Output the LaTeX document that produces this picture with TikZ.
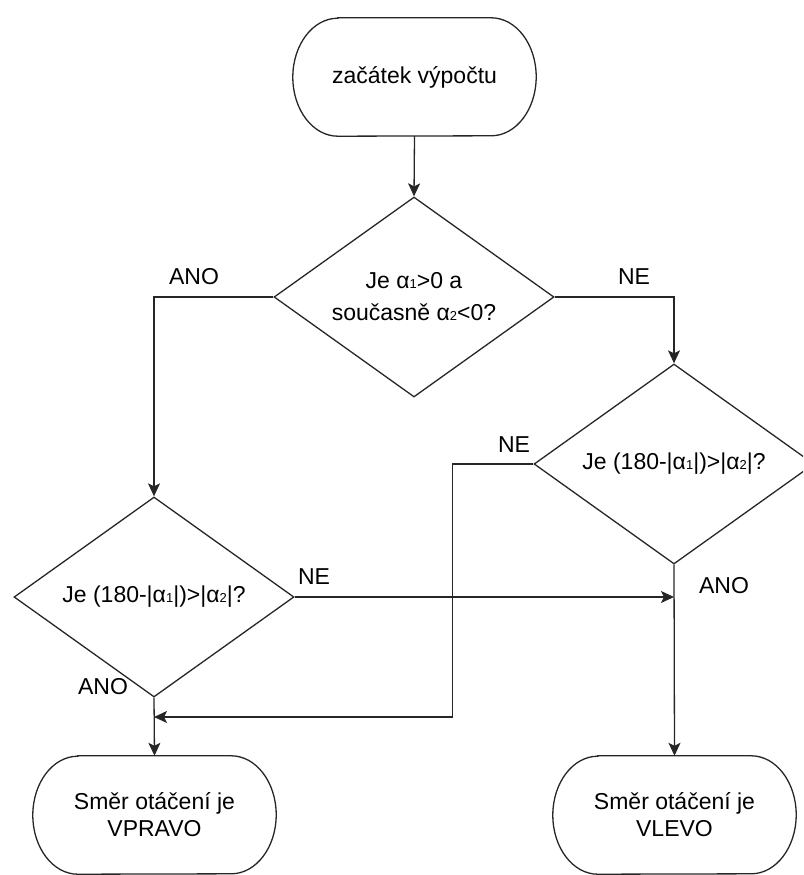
\documentclass[tikz,border=0pt]{standalone}
\usepackage{fontspec}
\setmainfont{Liberation Sans}
\usetikzlibrary{shapes.geometric,arrows.meta}
\newcommand\alsub[1]{α{\fontsize{13}{13}\selectfont #1}}
\tikzset{
  base/.style={line width=1.3pt, draw=black!85},
  arr/.style={base, -{Stealth[length=13pt,width=12pt,inset=3pt]}},
  term/.style={rectangle, draw=none, minimum width=243pt, minimum height=118pt, inner sep=0pt,
    align=center, font=\fontsize{23}{27}\selectfont},
  dia/.style={diamond, base, aspect=1.4, minimum width=280pt, minimum height=200pt, inner sep=0pt,
    align=center, font=\fontsize{23}{32}\selectfont},
  lbl/.style={font=\fontsize{23}{23}\selectfont, inner sep=0pt}
}
\begin{document}
\begin{tikzpicture}[x=1pt,y=-1pt]
\useasboundingbox (0,0) rectangle (803,875);
\clip (0,0) rectangle (803,875);
% nodes
\node[term] (start) at (414.5,77) {začátek výpočtu};
\node[dia] (d1) at (414,297) {Je \alsub{1}>0 a\\současně \alsub{2}<0?};
\node[dia] (d2) at (674,464) {Je (180-|\alsub{1}|)>|\alsub{2}|?};
\node[dia] (d3) at (154,597) {Je (180-|\alsub{1}|)>|\alsub{2}|?};
\node[term] (left) at (154.5,815) {Směr otáčení je\\VPRAVO};
\node[term] (right) at (674.5,815) {Směr otáčení je\\VLEVO};
% terminator outlines
\foreach \n in {start,left,right}{
  \draw[base] ([xshift=45pt]\n.north west) -- ([xshift=-45pt]\n.north east)
    arc[start angle=90,end angle=-90,x radius=45pt,y radius=59pt]
    -- ([xshift=45pt]\n.south west)
    arc[start angle=270,end angle=90,x radius=45pt,y radius=59pt] -- cycle;
}
% helper coordinates
\coordinate (mL) at (154,717);
\coordinate (mR) at (674,597);
% connectors
\draw[arr] (start.south) -- (d1.north);
\draw[arr] (d1.west) -| (d3.north);
\draw[arr] (d1.east) -| (d2.north);
\draw[arr] (d2.west) -- ++(-81,0) |- (mL);
\draw[arr] (d3.east) -- (mR);
\draw[arr] (d3.south) -- (left.north);
\draw[arr] (d2.south) -- (right.north);
% labels
\node[lbl] (l1) at (194,277) {ANO};
\node[lbl] (l2) at (634,277) {NE};
\node[lbl] (l3) at (514,445) {NE};
\node[lbl] (l4) at (314,577) {NE};
\node[lbl] (l5) at (103,687) {ANO};
\node[lbl] (l6) at (724,586) {ANO};
\end{tikzpicture}
\end{document}
